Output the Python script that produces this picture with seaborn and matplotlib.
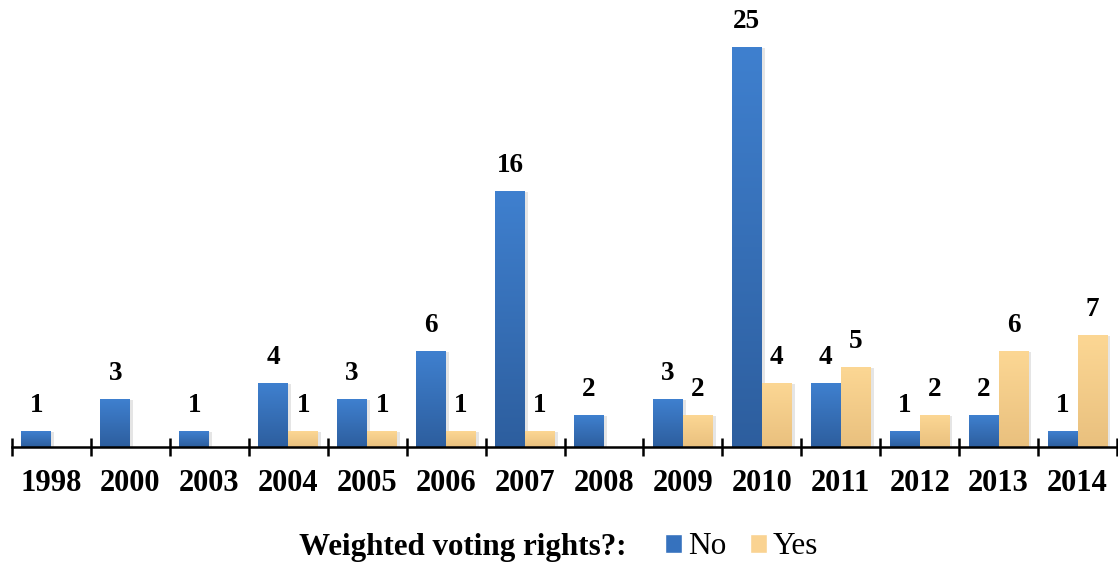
import numpy as np
import pandas as pd
import seaborn as sns
import matplotlib.pyplot as plt
from matplotlib.patches import Patch, Rectangle
from matplotlib.colors import LinearSegmentedColormap

years = ["1998", "2000", "2003", "2004", "2005", "2006", "2007",
         "2008", "2009", "2010", "2011", "2012", "2013", "2014"]
no_counts = [1, 3, 1, 4, 3, 6, 16, 2, 3, 25, 4, 1, 2, 1]
yes_counts = [0, 0, 0, 1, 1, 1, 1, 0, 2, 4, 5, 2, 6, 7]
groups = ["No", "Yes"]

df = pd.DataFrame({
    "year": years * 2,
    "count": no_counts + yes_counts,
    "vote": ["No"] * len(years) + ["Yes"] * len(years),
})

sns.set_style("white")
plt.rcParams["font.family"] = ["Liberation Serif", "DejaVu Serif"]
plt.rcParams["text.color"] = "black"
plt.rcParams["xtick.color"] = "black"

fig = plt.figure(figsize=(11.18, 5.62), dpi=100)
ax = fig.add_axes([12 / 1118, 115 / 562, 1105 / 1118, 447 / 562])

sns.barplot(data=df, x="year", y="count", hue="vote", hue_order=groups,
            palette={"No": "#3A75C0", "Yes": "#F2CC88"}, width=0.76,
            saturation=1, errorbar=None, legend=False, ax=ax)

# vertical gradient fill, like the office-style bars
grads = {"No": ("#2D5E9E", "#3F80CF"), "Yes": ("#E9C07E", "#FCD794")}
for cont, name in zip(ax.containers, groups):
    cmap = LinearSegmentedColormap.from_list(name, grads[name])
    for bar in cont:
        h = bar.get_height()
        bar.set_facecolor("none")
        bar.set_edgecolor("none")
        if h <= 0:
            continue
        x0, w = bar.get_x(), bar.get_width()
        ax.add_patch(Rectangle((x0 + 0.035, 0), w, h - 0.05, color="black",
                               alpha=0.10, lw=0, zorder=1))
        ax.imshow(np.linspace(0, 1, 256).reshape(-1, 1), extent=[x0, x0 + w, 0, h],
                  origin="lower", cmap=cmap, aspect="auto", zorder=2)

for cont in ax.containers:
    labels = [f"{v:g}" if v > 0 else "" for v in cont.datavalues]
    ax.bar_label(cont, labels=labels, padding=9, fontsize=19.5, fontweight="bold",
                 color="black")

ax.set_xlim(-0.5, len(years) - 0.5)
ax.set_ylim(0, 447 / 16)
ax.set_yticks([])
ax.set_xticks(np.arange(-0.5, len(years), 1), minor=True)
ax.tick_params(axis="x", which="minor", bottom=True, direction="inout", length=13,
               width=1.8, color="black")
ax.tick_params(axis="x", which="major", bottom=True, length=0, pad=16, labelsize=22,
               labelcolor="black")
for lab in ax.get_xticklabels():
    lab.set_fontweight("bold")
ax.set_xlabel("")
ax.set_ylabel("")
sns.despine(ax=ax, left=True)
ax.spines["bottom"].set_linewidth(1.8)
ax.spines["bottom"].set_color("black")

fig.text(299 / 1118, 1 - 547 / 562, "Weighted voting rights?:", fontsize=22.3,
         fontweight="bold", va="center", ha="left", color="black")
fig.legend(handles=[Patch(fc="#3672BE"), Patch(fc="#FAD392")], labels=groups,
           loc="center left", bbox_to_anchor=(665 / 1118, 1 - 547 / 562), ncol=2,
           frameon=False, fontsize=22.5, handlelength=0.54, handleheight=0.54,
           handletextpad=0.2, columnspacing=0.75, borderpad=0, borderaxespad=0)

fig.savefig("out.png", dpi=100)
